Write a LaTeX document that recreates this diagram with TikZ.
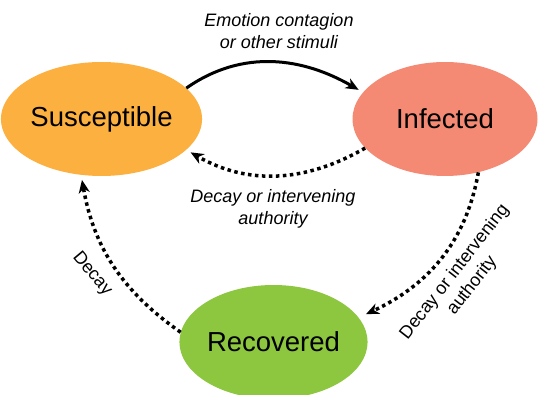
\documentclass[tikz,border=0pt]{standalone}
\usepackage{fontspec}
\setmainfont{Liberation Sans}
\usetikzlibrary{arrows.meta,shapes.geometric}
\definecolor{suscol}{HTML}{FBB040}
\definecolor{infcol}{HTML}{F58A74}
\definecolor{reccol}{HTML}{8DC63F}
\tikzset{
  every picture/.style={line join=round, >=Stealth},
  phase/.style={ellipse, minimum width=185pt, minimum height=114pt, inner sep=0pt,
    font=\fontsize{27.5}{30}\selectfont},
  lbl/.style={align=center, font=\fontsize{18}{22}\selectfont},
  solidarr/.style={line width=3pt, -{Stealth[length=13pt,width=11pt,inset=4pt]}, shorten >=5pt},
  dotarr/.style={line width=3.5pt, dash pattern=on 3.5pt off 3.5pt,
    -{Stealth[length=13pt,width=11pt,inset=4pt]}, shorten >=5pt},
}

\begin{document}
\begin{tikzpicture}[x=1pt,y=-1pt]
\useasboundingbox (0,0) rectangle (538,395);
% states
\node[phase,fill=suscol] (S) at (101.5,119) {Susceptible};
\node[phase,fill=infcol] (I) at (445,119) {Infected};
\node[phase,fill=reccol] (R) at (273.5,342) {Recovered};
% transitions
\draw[solidarr] (S.20) to[out=35,in=150] (I.162);
\draw[dotarr] (I.200) to[out=210,in=-30] (S.340);
\draw[dotarr,shorten >=8pt] (I.-58) to[out=-100,in=25] (R.16);
\draw[dotarr] (R.174) to[out=145,in=-80] (S.-110);
% labels
\node[lbl,font=\fontsize{18}{22}\selectfont\itshape] (emo) at (279,31) {Emotion contagion\\or other stimuli};
\node[lbl,font=\fontsize{18}{22}\selectfont\itshape] (decIS) at (273,209) {Decay or intervening\\authority};
\node[lbl,rotate=52] (decIR) at (463.5,279) {Decay or intervening\\authority};
\node[lbl,rotate=-50] (decRS) at (92,274) {Decay};
\end{tikzpicture}
\end{document}
